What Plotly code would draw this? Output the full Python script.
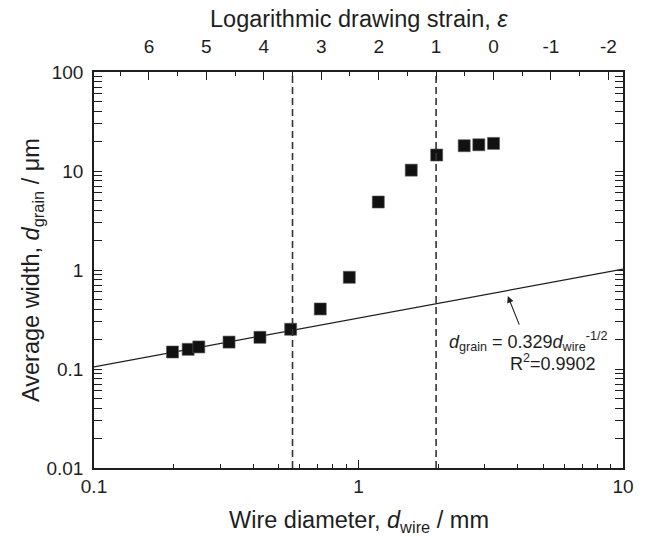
import numpy as np
import plotly.graph_objects as go

# ---- data ----
wire_diameter_mm = [0.198, 0.227, 0.249, 0.324, 0.424, 0.554, 0.717, 0.923,
                    1.188, 1.583, 1.975, 2.51, 2.85, 3.24]
grain_width_um = [0.1485, 0.158, 0.167, 0.187, 0.209, 0.252, 0.404, 0.844,
                  4.86, 10.2, 14.5, 18.0, 18.4, 19.0]

fit_x = [0.1, 10]
fit_y = [0.105, 1.02]

initial_diameter_mm = 3.24          # strain = 2 ln(D0 / d)
strain_ticks = [6, 5, 4, 3, 2, 1, 0, -1, -2]
strain_minor = [6.5, 5.5, 4.5, 3.5, 2.5, 1.5, 0.5, -0.5, -1.5]
strain_marks = [3.5, 1]             # dashed vertical lines

y_ticks = [0.01, 0.1, 1, 10, 100]
y_ticktext = ["0.01", "0.1", "1", "10", "100"]
x_ticks = [0.1, 1, 10]
x_ticktext = ["0.1", "1", "10"]


def strain_to_d(e):
    return initial_diameter_mm * np.exp(-e / 2.0)


minor_log = [m * 10.0 ** k for k in range(-3, 3) for m in range(2, 10)]

FONT = "Liberation Sans, Arial, sans-serif"
INK = "#1e1e1e"

fig = go.Figure()

# fit line
fig.add_trace(go.Scatter(x=fit_x, y=fit_y, mode="lines",
                         line=dict(color=INK, width=1.2), showlegend=False,
                         hoverinfo="skip"))

# dashed strain marks (on top axis)
for e in strain_marks:
    d = strain_to_d(e)
    fig.add_trace(go.Scatter(x=[d, d], y=[0.01, 100], mode="lines",
                             xaxis="x2", yaxis="y",
                             line=dict(color="#333333", width=1.6, dash="7px,4px"),
                             showlegend=False, hoverinfo="skip"))

# data points
fig.add_trace(go.Scatter(x=wire_diameter_mm, y=grain_width_um, mode="markers",
                         marker=dict(symbol="square", size=12, color="#111111",
                                     line=dict(width=0.6, color="#555555")),
                         showlegend=False))

axis_common = dict(showline=True, linecolor=INK, linewidth=1.6,
                   showgrid=False, zeroline=False,
                   tickfont=dict(family=FONT, size=19, color=INK),
                   ticks="inside", ticklen=8, tickwidth=1.4, tickcolor=INK)

fig.update_layout(
    width=647, height=537,
    margin=dict(l=94, r=24, t=72, b=69),
    paper_bgcolor="white", plot_bgcolor="white",
    font=dict(family=FONT, color=INK),
    xaxis=dict(type="log", range=[-1, 1], tickmode="array",
               tickvals=x_ticks, ticktext=x_ticktext, mirror=False,
               ticklabelstandoff=0,
               minor=dict(ticks="inside", ticklen=4, tickwidth=1.2,
                          tickcolor=INK, tickmode="array", tickvals=minor_log),
               **axis_common),
    xaxis2=dict(type="log", range=[-1, 1], overlaying="x", side="top",
                tickmode="array",
                tickvals=[strain_to_d(e) for e in strain_ticks],
                ticktext=[str(e) for e in strain_ticks],
                ticklabelstandoff=10,
                minor=dict(ticks="inside", ticklen=4, tickwidth=1.2,
                           tickcolor=INK, tickmode="array",
                           tickvals=[strain_to_d(e) for e in strain_minor]),
                **axis_common),
    yaxis=dict(type="log", range=[-2, 2], tickmode="array",
               tickvals=y_ticks, ticktext=y_ticktext, mirror="allticks",
               ticklabelstandoff=5,
               minor=dict(ticks="inside", ticklen=4, tickwidth=1.2,
                          tickcolor=INK, tickmode="array", tickvals=minor_log),
               **axis_common),
)

ann = []
# axis titles
ann.append(dict(xref="paper", yref="paper", x=0.5, y=(468 - 521) / 396,
                text="Wire diameter, <i>d</i><sub>wire</sub> / mm",
                showarrow=False, xanchor="center", yanchor="middle",
                font=dict(family=FONT, size=23.5, color=INK)))
ann.append(dict(xref="paper", yref="paper", x=0.5, y=(468 - 19) / 396,
                text="Logarithmic drawing strain, <i>ε</i>",
                showarrow=False, xanchor="center", yanchor="middle",
                font=dict(family=FONT, size=23.5, color=INK)))
ann.append(dict(xref="paper", yref="paper", x=(32 - 94) / 529, y=0.5,
                text="Average width, <i>d</i><sub>grain</sub> / μm",
                textangle=-90, showarrow=False, xanchor="center", yanchor="middle",
                font=dict(family=FONT, size=23.5, color=INK)))
# fit equation
ann.append(dict(xref="paper", yref="paper", x=(446.7 - 94) / 529, y=(468 - 341) / 396,
                text="<i>d</i><sub>grain</sub> = 0.329<i>d</i><sub>wire</sub><sup>-1/2</sup>",
                showarrow=False, xanchor="left", yanchor="middle",
                font=dict(family=FONT, size=18, color=INK)))
ann.append(dict(xref="paper", yref="paper", x=(552.5 - 94) / 529, y=(468 - 362) / 396,
                text="R<sup>2</sup>=0.9902",
                showarrow=False, xanchor="center", yanchor="middle",
                font=dict(family=FONT, size=18, color=INK)))
# arrow
ann.append(dict(xref="x", yref="y", x=np.log10(3.67), y=np.log10(0.545),
                ax=12, ay=30, text="", showarrow=True, arrowhead=2,
                arrowsize=1.2, arrowwidth=1.1, arrowcolor=INK))
fig.update_layout(annotations=ann)

fig.write_html("out.html")
